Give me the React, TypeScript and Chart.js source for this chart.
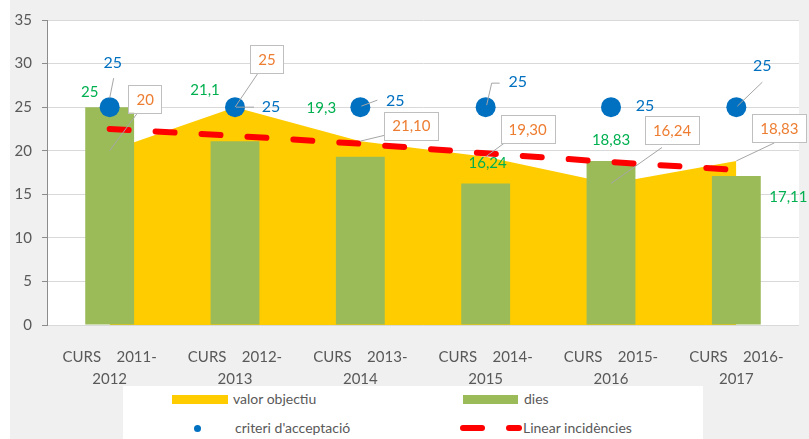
import React, { useEffect, useRef } from "react";
import { Chart, registerables } from "chart.js";

Chart.register(...registerables);

// ---------- data ----------
const categories: string[][] = [
  ["CURS    2011-", "2012"],
  ["CURS    2012-", "2013"],
  ["CURS    2013-", "2014"],
  ["CURS    2014-", "2015"],
  ["CURS    2015-", "2016"],
  ["CURS    2016-", "2017"],
];
const valorObjectiu = [20, 25, 21.1, 19.3, 16.24, 18.83];
const dies = [25, 21.1, 19.3, 16.24, 18.83, 17.11];
const criteriAcceptacio = [25, 25, 25, 25, 25, 25];
const linearIncidencies = [22.5, 21.7, 20.8, 19.7, 18.7, 17.8];
const yTicks = [0, 5, 10, 15, 20, 25, 30, 35];

// ---------- styles ----------
const FONT = "Lato, 'Open Sans', sans-serif";
const GREY_TEXT = "#595959";
const C_AREA = "#ffcc00";
const C_BAR = "#9bbb59";
const C_POINT = "#0070c0";
const C_TREND = "#ff0000";
const C_ORANGE = "#ed7d31";
const C_GREEN = "#00b050";

// label placement offsets (pixels, relative to each mark)
const criteriOffsets = [[3, -44], [36, 0], [35, -6], [32, -25], [34, -1], [26, -41]];
const criteriLeaders: (number[][] | null)[] = [
  [[4, -29], [0, -9]],
  [[1, 0], [19, 0]],
  [[1, -1], [17, -7]],
  [[1, -2], [6, -24], [14, -24]],
  null,
  [[1, -1], [26, -25]],
];
const valorOffsets = [[35.5, -52], [32, -48], [51, -15.5], [42, -28], [61, -53], [43, -33]];
const valorLeaders = [[28, -38], [23, -34], [25, -6], [19, -14], [51, -36], [38, -18]];
const diesOffsets = [[-20, -15], [-30, -51], [-39, -49], [2, -20], [0, -21], [52, 21]];

const fmtValor = (v: number) => (Number.isInteger(v) ? String(v) : v.toFixed(2).replace(".", ","));
const fmtDies = (v: number) => String(v).replace(".", ",");

const bgPlugin = {
  id: "bgPlugin",
  beforeDraw(chart: any) {
    const { ctx, chartArea: a, width, height } = chart;
    ctx.save();
    ctx.fillStyle = "#f0f0f0";
    ctx.fillRect(10, 0, width - 10, height);
    ctx.fillStyle = "#ffffff";
    ctx.fillRect(a.left, a.top, a.right - a.left, a.bottom - a.top);
    ctx.restore();
  },
};

const labelsPlugin = {
  id: "labelsPlugin",
  afterDatasetsDraw(chart: any) {
    const ctx = chart.ctx;
    ctx.save();
    const line = (pts: number[][]) => {
      ctx.beginPath();
      ctx.moveTo(pts[0][0], pts[0][1]);
      for (let i = 1; i < pts.length; i++) ctx.lineTo(pts[i][0], pts[i][1]);
      ctx.strokeStyle = "#a6a6a6";
      ctx.lineWidth = 1;
      ctx.stroke();
    };
    ctx.textAlign = "center";
    ctx.textBaseline = "middle";

    // valor objectiu (dataset 0) : boxed orange labels
    const m0 = chart.getDatasetMeta(0);
    m0.data.forEach((el: any, i: number) => {
      const { x, y } = el;
      line([[x, y], [x + valorLeaders[i][0], y + valorLeaders[i][1]]]);
      ctx.font = `15px ${FONT}`;
      const txt = fmtValor(valorObjectiu[i]);
      const w = ctx.measureText(txt).width + 16;
      const h = 28;
      const cx = x + valorOffsets[i][0];
      const cy = y + valorOffsets[i][1];
      ctx.fillStyle = "#ffffff";
      ctx.fillRect(cx - w / 2, cy - h / 2, w, h);
      ctx.strokeStyle = "#bfbfbf";
      ctx.lineWidth = 1;
      ctx.strokeRect(Math.round(cx - w / 2) + 0.5, Math.round(cy - h / 2) + 0.5, Math.round(w), h);
      ctx.fillStyle = C_ORANGE;
      ctx.fillText(txt, cx, cy + 1);
    });

    // dies (dataset 1) : green labels
    const m1 = chart.getDatasetMeta(1);
    m1.data.forEach((el: any, i: number) => {
      ctx.font = `15px ${FONT}`;
      ctx.fillStyle = C_GREEN;
      ctx.fillText(fmtDies(dies[i]), el.x + diesOffsets[i][0], el.y + diesOffsets[i][1]);
    });

    // criteri (dataset 3) : blue labels
    const m3 = chart.getDatasetMeta(3);
    m3.data.forEach((el: any, i: number) => {
      const { x, y } = el;
      const ld = criteriLeaders[i];
      if (ld) line(ld.map((p) => [x + p[0], y + p[1]]));
      ctx.font = `16px ${FONT}`;
      ctx.fillStyle = C_POINT;
      ctx.fillText(String(criteriAcceptacio[i]), x + criteriOffsets[i][0], y + criteriOffsets[i][1]);
    });
    ctx.restore();
  },
};

export default function App() {
  const ref = useRef<HTMLCanvasElement>(null);

  useEffect(() => {
    const canvas = ref.current!;
    const chart = new Chart(canvas, {
      type: "bar",
      data: {
        labels: categories as any,
        datasets: [
          {
            type: "line",
            label: "valor objectiu",
            data: valorObjectiu,
            fill: "origin",
            backgroundColor: C_AREA,
            borderWidth: 0,
            pointRadius: 0,
            tension: 0,
            order: 4,
          } as any,
          {
            type: "bar",
            label: "dies",
            data: dies,
            backgroundColor: C_BAR,
            categoryPercentage: 1,
            barPercentage: 0.39,
            order: 3,
          },
          {
            type: "line",
            label: "Linear incidències",
            data: linearIncidencies,
            borderColor: C_TREND,
            borderWidth: 6,
            borderDash: [19, 27],
            borderCapStyle: "round",
            pointRadius: 0,
            fill: false,
            tension: 0,
            order: 2,
          } as any,
          {
            type: "line",
            label: "criteri d'acceptació",
            data: criteriAcceptacio,
            showLine: false,
            pointRadius: 10,
            pointBackgroundColor: C_POINT,
            pointBorderWidth: 0,
            borderColor: C_POINT,
            order: 1,
          } as any,
        ],
      },
      options: {
        responsive: false,
        animation: false,
        devicePixelRatio: 1,
        layout: { padding: { top: 20, right: 9, left: 0, bottom: 0 } },
        plugins: {
          legend: { display: false },
          tooltip: { enabled: false },
        },
        scales: {
          x: {
            offset: true,
            grid: { display: false },
            border: { display: false },
            ticks: {
              autoSkip: false,
              maxRotation: 0,
              padding: 13,
              color: GREY_TEXT,
              font: { family: FONT, size: 15, lineHeight: 22 / 15 },
            },
            afterFit: (s: any) => {
              s.height = 114;
            },
          },
          y: {
            min: 0,
            max: 35,
            afterBuildTicks: (s: any) => {
              s.ticks = yTicks.map((v) => ({ value: v }));
            },
            grid: { color: "#d9d9d9", tickColor: "#8c8c8c", tickLength: 5, lineWidth: 1 },
            border: { display: true, color: "#8c8c8c", width: 1 },
            ticks: {
              padding: 10,
              color: GREY_TEXT,
              font: { family: FONT, size: 15 },
            },
            afterFit: (s: any) => {
              s.width = 47;
            },
          },
        },
      },
      plugins: [bgPlugin, labelsPlugin],
    } as any);
    return () => chart.destroy();
  }, []);

  const text = (left: number, cy: number, s: string) => (
    <div
      style={{
        position: "absolute",
        left,
        top: cy - 10,
        height: 20,
        lineHeight: "20px",
        fontSize: 14,
        fontFamily: FONT,
        color: GREY_TEXT,
        whiteSpace: "nowrap",
      }}
    >
      {s}
    </div>
  );
  const rect = (left: number, top: number, w: number, h: number, color: string, radius = 0) => (
    <div style={{ position: "absolute", left, top, width: w, height: h, background: color, borderRadius: radius }} />
  );

  return (
    <div style={{ position: "fixed", left: 0, top: 0, width: 809, height: 439, background: "#ffffff" }}>
      <canvas ref={ref} width={809} height={439} style={{ display: "block", width: 809, height: 439 }} />
      <div style={{ position: "absolute", left: 123, top: 386, width: 580, height: 53, background: "#ffffff" }} />
      {rect(172, 395, 56, 9, C_AREA)}
      {text(233, 399, "valor objectiu")}
      {rect(463, 395, 55, 9, C_BAR)}
      {text(524, 399, "dies")}
      {rect(193.5, 424.5, 7, 7, C_POINT, 4)}
      {text(235, 428, "criteri d'acceptació")}
      {rect(460, 425, 25, 6, C_TREND, 3)}
      {rect(506, 425, 16, 6, C_TREND, 3)}
      {text(523, 428, "Linear incidències")}
    </div>
  );
}
